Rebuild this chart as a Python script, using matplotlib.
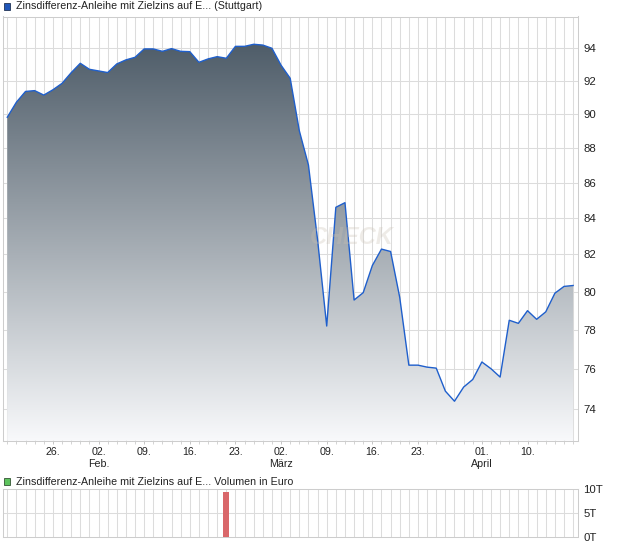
import numpy as np
import pandas as pd
import matplotlib
matplotlib.use("Agg")
import matplotlib.pyplot as plt
from matplotlib.colors import LinearSegmentedColormap
from matplotlib.ticker import FixedLocator, NullLocator, FixedFormatter

plt.rcParams['font.family'] = ['Liberation Sans', 'DejaVu Sans']

# trading days at Stuttgart (Good Friday / Easter Monday closed)
holidays = ['2026-04-03', '2026-04-06']
days = pd.bdate_range('2026-01-19', '2026-04-17')
days = days[~days.isin(pd.to_datetime(holidays))]

prices = [
    89.8, 90.7, 91.35, 91.4, 91.13, 91.45, 91.84, 92.49, 93.07, 92.7,
    92.6, 92.5, 93.03, 93.28, 93.44, 93.96, 93.96, 93.81, 93.98, 93.81,
    93.79, 93.13, 93.34, 93.48, 93.38, 94.12, 94.12, 94.25, 94.2, 94.0,
    92.95, 92.15, 89.0, 87.0, 82.8, 78.2, 84.6, 84.86, 79.56, 79.95,
    81.4, 82.29, 82.16, 79.7, 76.2, 76.2, 76.1, 76.05, 74.9, 74.4,
    75.1, 75.48, 76.36, 76.02, 75.6, 78.5, 78.34, 79.0, 78.55, 78.94,
    79.92, 80.28, 80.33,
]

vol_dates = ['2026-02-20']
vol_values = [9400]

tick_dates = ['2026-01-26', '2026-02-02', '2026-02-09', '2026-02-16', '2026-02-23',
              '2026-03-02', '2026-03-09', '2026-03-16', '2026-03-23', '2026-04-01',
              '2026-04-10']
tick_labels = ['26.', '02.\nFeb.', '09.', '16.', '23.', '02.\nMärz', '09.', '16.',
               '23.', '01.\nApril', '10.']

price_ticks = [74, 76, 78, 80, 82, 84, 86, 88, 90, 92, 94]
vol_ticks = [0, 5000, 10000]
vol_tick_labels = ['0T', '5T', '10T']

title_main = 'Zinsdifferenz-Anleihe mit Zielzins auf E... (Stuttgart)'
title_vol = 'Zinsdifferenz-Anleihe mit Zielzins auf E... Volumen in Euro'

GRID = '#dcdcdc'
SPINE = '#cdcdcd'
LINE = '#1f5fcc'
TXT = '#222222'
FS = 7.7

W, H = 620, 546
fig = plt.figure(figsize=(W / 100, H / 100), dpi=100)

def fig_rect(x0, y0, x1, y1):
    return [x0 / W, 1 - y1 / H, (x1 - x0) / W, (y1 - y0) / H]

ax = fig.add_axes(fig_rect(2.7, 16.5, 577.7, 440.7))
axv = fig.add_axes(fig_rect(2.7, 489.3, 577.7, 536.7))

x = np.arange(len(days))
tick_pos = [days.get_loc(pd.Timestamp(d)) for d in tick_dates]

# --- price panel
ax.set_yscale('log')
ax.set_xlim(-0.5, len(days) - 0.5)
ax.set_ylim(72.48, 96.0)

poly = ax.fill_between(x, prices, 72.48, color='none', linewidth=0)
cmap = LinearSegmentedColormap.from_list('fade', ['#f8f9fb', '#43525f'])
grad = np.linspace(0, 1, 256).reshape(-1, 1)
im = ax.imshow(grad, cmap=cmap, aspect='auto', origin='lower',
               extent=[0, 1, 0, 1], transform=ax.transAxes, zorder=1)
im.set_clip_path(poly.get_paths()[0], transform=ax.transData)
ax.plot(x, prices, color=LINE, linewidth=1.0, zorder=3)

ax.text(0.607, 0.478, 'CHECK', transform=ax.transAxes, fontsize=17,
        fontweight='bold', fontstyle='italic', color='#c9c0b2', alpha=0.3,
        ha='center', va='center', zorder=4)

ax.xaxis.set_major_locator(FixedLocator(tick_pos))
ax.xaxis.set_major_formatter(FixedFormatter(tick_labels))
ax.xaxis.set_minor_locator(FixedLocator(x))
ax.yaxis.set_major_locator(FixedLocator(price_ticks))
ax.yaxis.set_major_formatter(FixedFormatter([str(v) for v in price_ticks]))
ax.yaxis.set_minor_locator(NullLocator())
ax.yaxis.tick_right()
ax.tick_params(axis='y', length=0, pad=4, labelsize=FS + 0.5, labelcolor=TXT)
ax.tick_params(axis='x', which='major', length=2, width=0.6, color='#bbbbbb',
               pad=2.5, labelsize=FS, labelcolor=TXT)
ax.tick_params(axis='x', which='minor', length=2, width=0.6, color='#cccccc')
for gx in x:
    ax.axvline(gx, color=GRID, linewidth=0.75, zorder=0.5)
for gy in price_ticks:
    ax.axhline(gy, color=GRID, linewidth=0.75, zorder=0.5)
for s in ax.spines.values():
    s.set_color(SPINE)
    s.set_linewidth(0.75)

# --- volume panel
vol_pos = [days.get_loc(pd.Timestamp(d)) for d in vol_dates]
axv.set_xlim(-0.5, len(days) - 0.5)
axv.set_ylim(0, 10000)
axv.bar(vol_pos, vol_values, width=0.66, color='#d9676a', zorder=3)
for gx in x:
    axv.axvline(gx, color=GRID, linewidth=0.75, zorder=0.5)
axv.axhline(5000, color=GRID, linewidth=0.75, zorder=0.5)
axv.set_xticks([])
axv.yaxis.tick_right()
axv.set_yticks(vol_ticks)
axv.set_yticklabels(vol_tick_labels)
axv.tick_params(axis='y', length=0, pad=4, labelsize=FS + 0.5, labelcolor=TXT)
for s in axv.spines.values():
    s.set_color(SPINE)
    s.set_linewidth(0.75)

# --- legend headers
fig.patches.append(plt.Rectangle((3.5 / W, 1 - 9.8 / H), 7 / W, 7 / H,
                                 transform=fig.transFigure, facecolor='#1f56b8',
                                 edgecolor='#223355', linewidth=0.6))
fig.text(15.5 / W, 1 - 6.3 / H, title_main, fontsize=FS, color=TXT,
         va='center', ha='left')
fig.patches.append(plt.Rectangle((3.5 / W, 1 - 485.2 / H), 7 / W, 7 / H,
                                 transform=fig.transFigure, facecolor='#5ec45e',
                                 edgecolor='#335533', linewidth=0.6))
fig.text(15.5 / W, 1 - 481.7 / H, title_vol, fontsize=FS, color=TXT,
         va='center', ha='left')

fig.savefig('out.png', dpi=100)
